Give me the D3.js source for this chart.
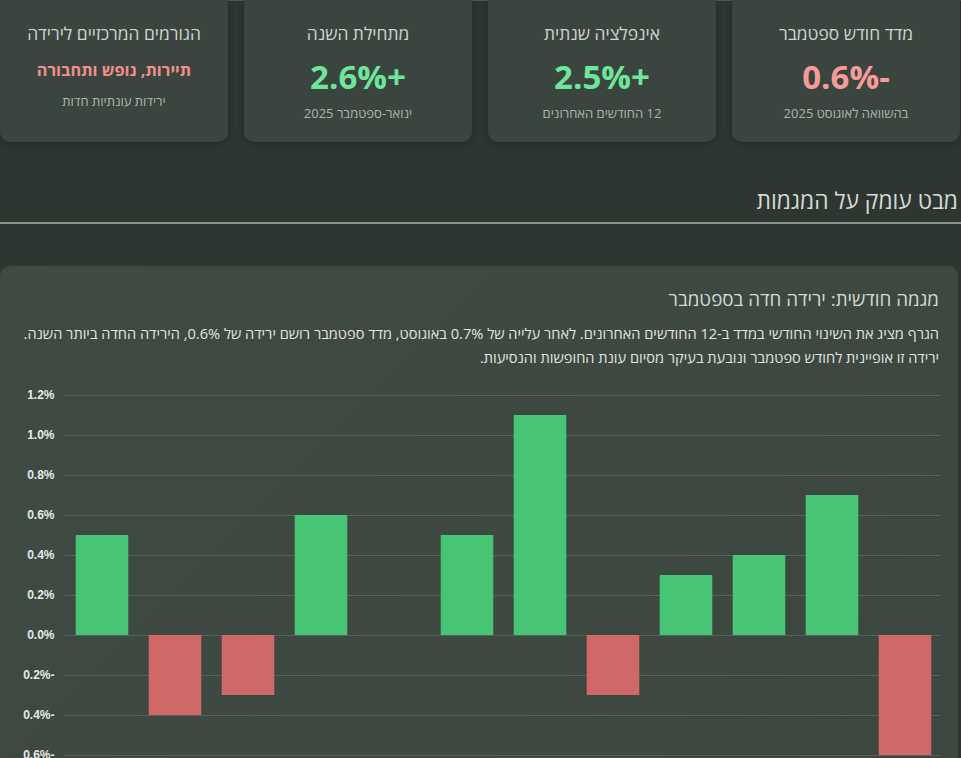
<!DOCTYPE html>
<html lang="he" dir="rtl">
<head>
<meta charset="utf-8">
<script src="https://cdn.jsdelivr.net/npm/d3@7"></script>
<style>
  body { margin:0; width:961px; height:758px; overflow:hidden; position:relative;
         background:#2e3631; font-family:"Open Sans", "DejaVu Sans", sans-serif; }
  .card { position:absolute; top:-20px; height:162px; width:228px; border-radius:10px;
          background:#3b453f; box-shadow:0 2px 6px rgba(0,0,0,0.25); text-align:center; }
  .card .t { position:absolute; left:0; right:0; top:43px; font-size:17.4px; line-height:20px; color:#cfd4cf; }
  .card .v { position:absolute; left:0; right:0; top:76px; font-size:33px; line-height:42px; font-weight:700; }
  .card .v.small { top:79px; font-size:16.3px; line-height:22px; }
  .card .s { position:absolute; left:0; right:0; top:124px; font-size:13px; line-height:18px; color:#aeb4ae; }
  .card .s.up { top:112px; }
  #topline { position:absolute; left:0; top:0; width:961px; height:1px; background:#4e5953; }
  #heading { position:absolute; right:3px; top:186px; font-size:22.8px; line-height:30px; color:#d6dad6; }
  #rule { position:absolute; left:0; top:222px; width:961px; height:2px; background:#8b958d; }
  #panel { position:absolute; left:0; top:266px; width:958px; height:560px; border-radius:10px;
           background:linear-gradient(135deg,#3f4a43,#3c4740); }
  #panel h3 { position:absolute; right:19px; top:20px; margin:0; font-size:18.8px; line-height:26px;
              font-weight:400; color:#d3d8d3; }
  #panel p { position:absolute; right:19px; top:55px; margin:0; width:935px; font-size:14.6px;
             line-height:24px; color:#e0e4e0; white-space:nowrap; }
  #chart { position:absolute; left:0; top:370px; }
</style>
</head>
<body>
<div id="topline"></div>
<div id="cards"></div>
<div id="heading">מבט עומק על המגמות</div>
<div id="rule"></div>
<div id="panel">
  <h3>מגמה חודשית: ירידה חדה בספטמבר</h3>
  <p>הגרף מציג את השינוי החודשי במדד ב-12 החודשים האחרונים. לאחר עלייה של 0.7% באוגוסט, מדד ספטמבר רושם ירידה של 0.6%, הירידה החדה ביותר השנה.<br>ירידה זו אופיינית לחודש ספטמבר ונובעת בעיקר מסיום עונת החופשות והנסיעות.</p>
</div>
<svg id="chart" width="961" height="388" direction="ltr"></svg>
<script>
// summary cards
var cardTitles = ["מדד חודש ספטמבר", "אינפלציה שנתית", "מתחילת השנה", "הגורמים המרכזיים לירידה"];
var cardValues = ["-0.6%", "+2.5%", "+2.6%", "תיירות, נופש ותחבורה"];
var cardNotes = ["בהשוואה לאוגוסט 2025", "12 החודשים האחרונים", "ינואר-ספטמבר 2025", "ירידות עונתיות חדות"];
var cardColors = ["#f59c9a", "#6ee59a", "#6ee59a", "#f28f8d"];

// monthly change of the index, Oct 2024 - Sep 2025 (month labels fall below the visible page)
var months = ["אוקטובר", "נובמבר", "דצמבר", "ינואר", "פברואר", "מרץ", "אפריל", "מאי", "יוני", "יולי", "אוגוסט", "ספטמבר"];
var monthlyChange = [0.5, -0.4, -0.3, 0.6, 0.0, 0.5, 1.1, -0.3, 0.3, 0.4, 0.7, -0.6];
var yTicks = [-0.6, -0.4, -0.2, 0.0, 0.2, 0.4, 0.6, 0.8, 1.0, 1.2];

var cards = d3.select("#cards").selectAll(".card")
  .data(cardTitles)
  .enter()
  .append("div")
  .attr("class", "card")
  .style("left", function(d, i){ return (732 - i * 244) + "px"; });

cards.append("div").attr("class", "t").text(function(d){ return d; });
cards.append("div")
  .attr("class", function(d, i){ return i == 3 ? "v small" : "v"; })
  .style("color", function(d, i){ return cardColors[i]; })
  .text(function(d, i){ return cardValues[i]; });
cards.append("div")
  .attr("class", function(d, i){ return i == 3 ? "s up" : "s"; })
  .text(function(d, i){ return cardNotes[i]; });

// bar chart
var svg = d3.select("#chart"),
    plotLeft = 65.5, plotRight = 941.5, plotTop = 25, plotBottom = 385;

var xScale = d3.scaleBand().domain(months).range([plotLeft, plotRight]).padding(0);
var yScale = d3.scaleLinear().domain([-0.6, 1.2]).range([plotBottom, plotTop]);
var barW = xScale.bandwidth() * 0.72;

var grid = svg.append("g").attr("class", "grid");
grid.selectAll("line")
  .data(yTicks)
  .enter()
  .append("line")
  .attr("x1", plotLeft - 1)
  .attr("x2", plotRight - 1.5)
  .attr("y1", function(d){ return Math.round(yScale(d)) + 0.5; })
  .attr("y2", function(d){ return Math.round(yScale(d)) + 0.5; })
  .attr("stroke", "#56625a")
  .attr("stroke-width", 1);

var yAxis = svg.append("g")
  .attr("transform", "translate(" + (plotLeft - 11) + ",0)")
  .call(d3.axisLeft(yScale).tickValues(yTicks).tickSize(0).tickPadding(0)
    .tickFormat(function(d){
      var s = Math.abs(d).toFixed(1) + "%";
      return d < 0 ? s + "-" : s;   // rtl rendering puts the sign after
    }));
yAxis.select(".domain").remove();
yAxis.selectAll("text")
  .attr("fill", "#e6eae6")
  .style("font-family", "'Liberation Sans', Arial, sans-serif")
  .style("font-size", "12px")
  .style("font-weight", "700");

svg.selectAll(".bar")
  .data(monthlyChange)
  .enter()
  .append("rect")
  .attr("class", "bar")
  .attr("x", function(d, i){ return xScale(months[i]) + (xScale.bandwidth() - barW) / 2; })
  .attr("width", barW)
  .attr("y", function(d){ return yScale(Math.max(0, d)); })
  .attr("height", function(d){ return Math.abs(yScale(d) - yScale(0)); })
  .attr("fill", function(d){ return d >= 0 ? "#48c475" : "#d16868"; });
</script>
</body>
</html>
